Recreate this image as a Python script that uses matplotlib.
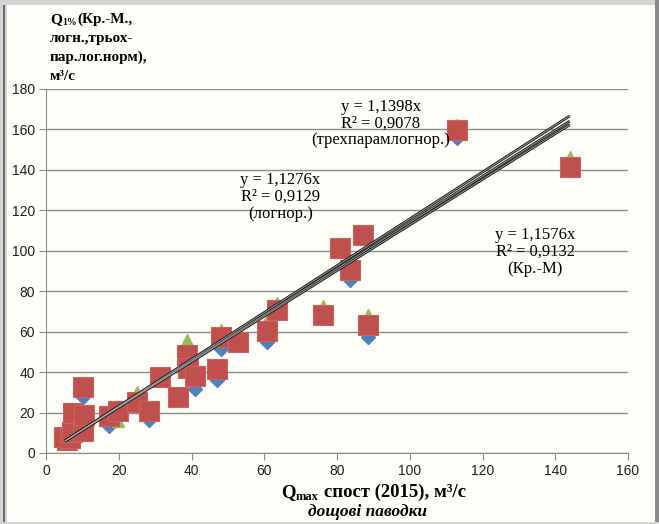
import matplotlib
matplotlib.use('Agg')
import matplotlib.pyplot as plt
import matplotlib.patches as mpatches
import numpy as np

# observed max discharge, 2015 (rain floods)
q_obs = [5.8, 5.0, 6.6, 7.2, 7.4, 10.2, 10.5, 10.2, 17.3, 19.8, 25.0, 28.3, 31.4, 36.3, 38.8,
         39.0, 41.0, 47.0, 48.2, 52.8, 60.8, 63.5, 76.2, 80.9, 83.6, 87.2, 88.6, 113.0, 144.0]
# Q1% by Kritsky-Menkel (blue diamonds)
q_km = [6.0, 7.6, 7.0, 10.0, 19.0, 10.5, 18.0, 27.5, 13.5, 18.5, 23.5, 16.5, 37.0, 27.0, 50.0,
        40.0, 31.5, 36.0, 51.5, 54.0, 55.0, 69.5, 67.5, 100.5, 85.5, 107.0, 57.5, 156.0, 141.5]
# Q1% by lognormal (green triangles)
q_logn = [6.5, 8.2, 7.8, 11.0, 20.5, 11.5, 19.5, 33.0, 17.5, 16.0, 30.0, 20.0, 38.5, 28.0, 56.0,
          43.0, 39.0, 43.0, 61.0, 56.0, 66.0, 74.0, 72.5, 99.5, 96.0, 108.5, 68.0, 162.0, 146.5]
# Q1% by three-parameter lognormal (red squares)
q_3p = [6.4, 8.0, 7.5, 10.4, 19.8, 11.0, 18.8, 32.5, 18.5, 21.0, 25.0, 21.0, 37.8, 27.7, 48.5,
        42.0, 38.0, 41.5, 57.5, 55.0, 60.5, 70.5, 68.3, 101.4, 90.5, 107.8, 63.3, 159.7, 141.4]

# trendline slopes (through origin), text and label position
slopes = [1.1276, 1.1398, 1.1576]
r2 = ['0,9129', '0,9078', '0,9132']
names = ['(логнор.)', '(трехпарамлогнор.)', '(Кр.-М)']
lab_pos = [(64.4, 126.6), (92.0, 163.0), (134.5, 99.4)]

W, H = 659, 524
fig = plt.figure(figsize=(W / 100, H / 100), dpi=100, facecolor='#fefef8')


def frame(x, y, w, h, c):
    fig.patches.append(mpatches.Rectangle((x / W, y / H), w / W, h / H, transform=fig.transFigure,
                                          facecolor=c, edgecolor='none', zorder=0))


# outer frame like in the original screenshot
frame(0, 0, 7, H, '#d4d4d4')
frame(3, 0, 1.5, H, '#6e6e6e')
frame(0, H - 5, W, 5, '#d4d4d4')
frame(655, 0, 4, H, '#8a8a8a')
frame(0, 0, W, 2, '#d4d4d4')

ax = fig.add_axes([46 / W, 71 / H, 582 / W, 364 / H])
ax.set_facecolor('none')

ax.plot(q_obs, q_km, 'D', color='#4f81bd', ms=7.5, mec='#4f81bd', zorder=3)
ax.plot(q_obs, q_logn, '^', color='#9bbb59', ms=9, mec='#9bbb59', zorder=4)
ax.plot(q_obs, q_3p, 's', color='#c0504d', ms=15, mec='#cc625e', mew=0.8, zorder=5)

xx = np.array([min(q_obs) + 0.2, max(q_obs)])
for k in slopes:
    ax.plot(xx, k * xx, color='#222222', lw=2.0, zorder=6, solid_capstyle='butt')
    ax.plot(xx, k * xx, color='#b8b8b8', lw=0.5, zorder=7, solid_capstyle='butt')

for k, r, n, (px, py) in zip(slopes, r2, names, lab_pos):
    txt = 'y = ' + ('%.4f' % k).replace('.', ',') + 'x\nR² = ' + r + '\n' + n
    ax.text(px, py, txt, ha='center', va='center', family='Liberation Serif',
            fontsize=12, linespacing=1.05, zorder=8)

ax.set_xlim(0, 160)
ax.set_ylim(0, 180)
ax.set_xticks(np.arange(0, 161, 20))
ax.set_yticks(np.arange(0, 181, 20))
ax.grid(axis='y', color='#8c8c8c', lw=1)
ax.set_axisbelow(True)
for s in ['top', 'right']:
    ax.spines[s].set_visible(False)
for s in ['left', 'bottom']:
    ax.spines[s].set_color('#8c8c8c')
ax.tick_params(direction='out', length=5, color='#8c8c8c', labelsize=10,
               labelcolor='#202020', pad=3)
for lab in ax.get_xticklabels() + ax.get_yticklabels():
    lab.set_family('Liberation Sans')

renderer = fig.canvas.get_renderer()
bold = dict(family='Liberation Serif', weight='bold')


def px_text(x, y, s, **kw):
    # x, y in pixels from top-left, y is the baseline
    return fig.text(x / W, 1 - y / H, s, va='baseline', **kw)


# y axis title
t = px_text(50, 23, 'Q', fontsize=11, **bold)
x = t.get_window_extent(renderer).x1 + 0.5
t = px_text(x, 25, '1%', fontsize=7, **bold)
x = t.get_window_extent(renderer).x1 + 0.5
px_text(x, 23, '(Кр.-М.,', fontsize=11, **bold)
px_text(50, 42, 'логн.,трьох-', fontsize=11, **bold)
px_text(50, 61, 'пар.лог.норм),', fontsize=11, **bold)
px_text(50, 80, 'м³/с', fontsize=11, **bold)

# x axis title
t = px_text(281, 497, 'Q', fontsize=13.5, **bold)
x = t.get_window_extent(renderer).x1 + 0.5
px_text(x, 500, 'max', fontsize=9, **bold)
px_text(466, 497, 'спост (2015), м³/с', fontsize=13.5, ha='right', **bold)
px_text(367, 516, 'дощові паводки', ha='center', style='italic', fontsize=12.5, **bold)

fig.savefig('out.png', dpi=100, facecolor=fig.get_facecolor())
